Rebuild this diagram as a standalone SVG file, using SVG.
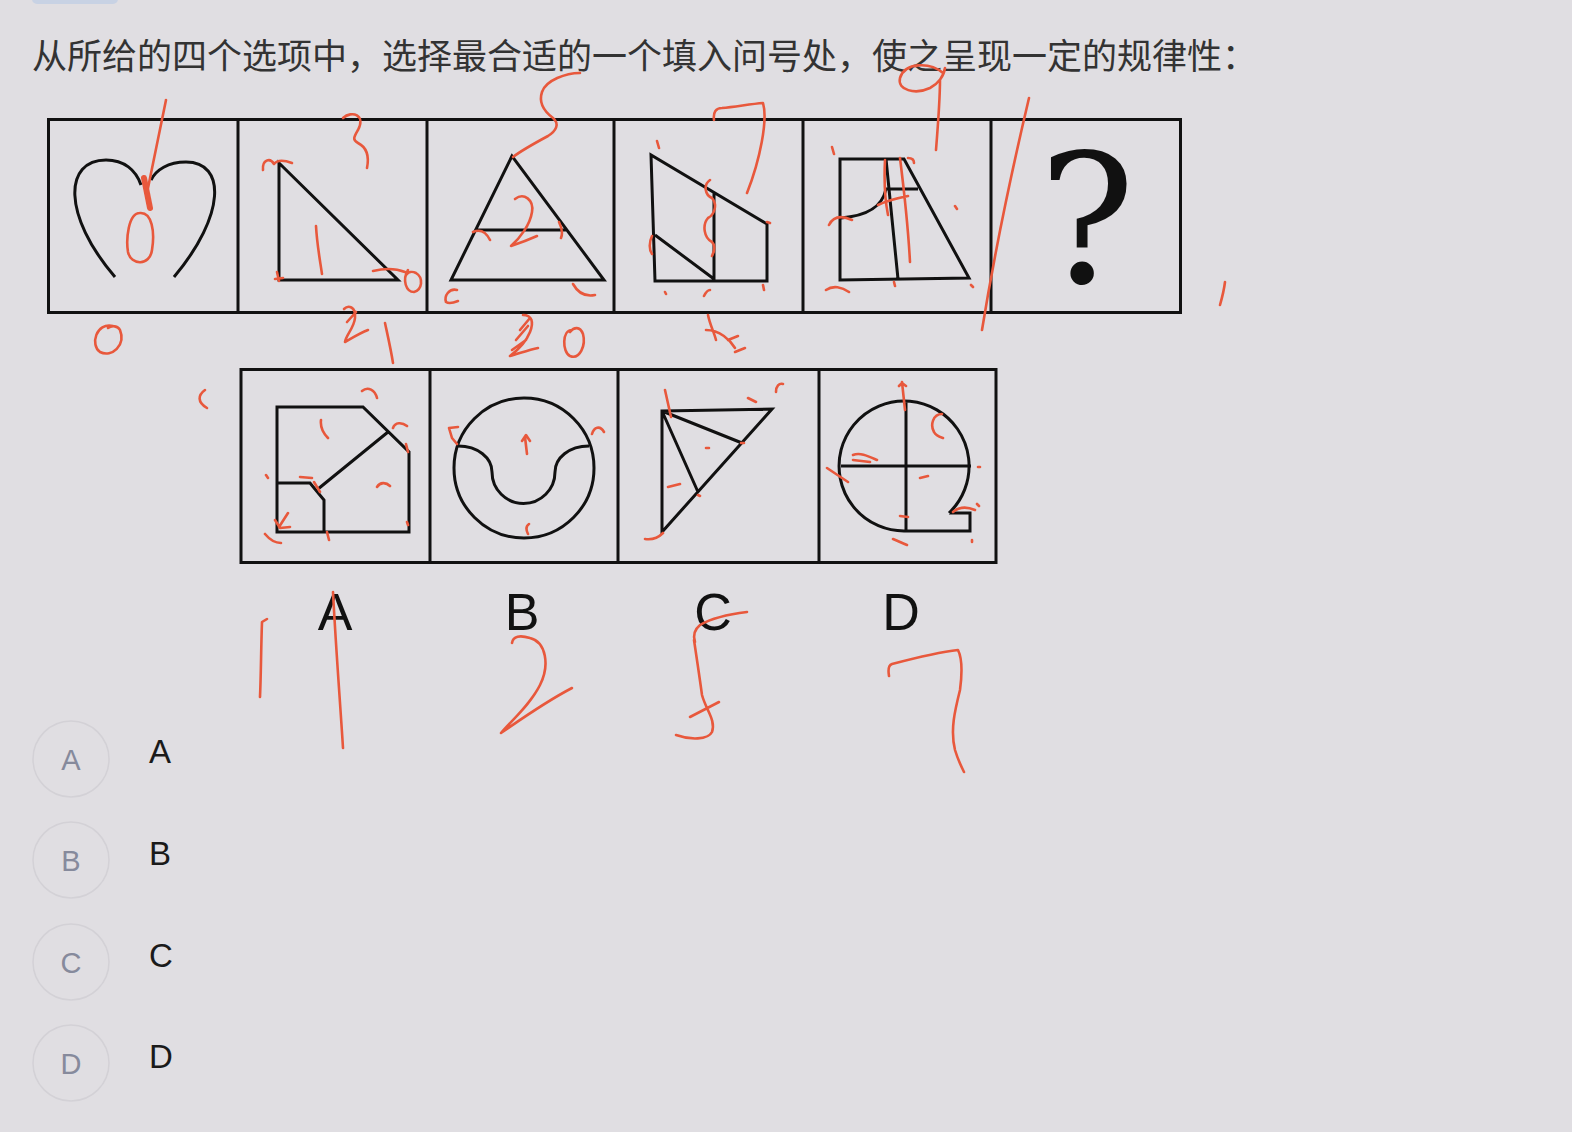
<svg xmlns="http://www.w3.org/2000/svg" width="1572" height="1132" viewBox="0 0 1572 1132">
<style>
.bx{fill:none;stroke:#111;stroke-width:3}
.sh{fill:none;stroke:#111;stroke-width:3;stroke-linejoin:miter}
.rd{fill:none;stroke:#e8583c;stroke-width:2.6;stroke-linecap:round;stroke-linejoin:round}
.ttl{font-family:"Noto Sans CJK SC","Noto Sans",sans-serif;font-size:35px;fill:#333}
.lbl{font-family:"Liberation Sans","Noto Sans",sans-serif;font-size:52px;fill:#111;text-anchor:middle}
.cl{fill:none;stroke:#d3d1d6;stroke-width:1.5}
.ct{font-family:"Liberation Sans",sans-serif;font-size:29px;fill:#868a9c;text-anchor:middle}
.ot{font-family:"Liberation Sans",sans-serif;font-size:33px;fill:#1a1a1a}
</style>
<rect width="1572" height="1132" fill="#e0dee2"/>
<rect x="32" y="-8" width="86" height="12" rx="5" fill="#c8d2e4"/>
<text class="ttl" x="32" y="69">从所给的四个选项中，选择最合适的一个填入问号处，使之呈现一定的规律性：</text>

<g id="row-top">
<rect class="bx" x="48.5" y="119.5" width="1132" height="193"/>
<path class="bx" d="M238,119.5V312.5M427,119.5V312.5M614,119.5V312.5M803,119.5V312.5M991,119.5V312.5"/>
</g>
<g id="fig1"><path class="sh" d="M115,277C62,215 64,160 106,160C124,160 136,170 141,185M174,277C226,215 226,162 186,162C168,162 156,170 151,180"/></g>
<g id="fig2"><path class="sh" d="M279,163L279,280L398,280Z"/></g>
<g id="fig3"><path class="sh" d="M512,156L451,280L604,280Z M475,230H566"/></g>
<g id="fig4"><path class="sh" d="M651,155L655,281L767,281L767,224Z M714,193V281 M655,235L714,279"/></g>
<g id="fig5"><path class="sh" d="M840,159H904L969,278L840,280Z M886,159L898,279 M841,218C866,216 882,208 886,189H918"/></g>
<g id="fig6"><text x="1087" y="282" font-family="DejaVu Serif,serif" font-size="180" text-anchor="middle" fill="#111">?</text></g>

<g id="row-options">
<rect class="bx" x="241" y="369.5" width="755" height="193"/>
<path class="bx" d="M430,369.5V562.5M618,369.5V562.5M819,369.5V562.5"/>
</g>
<g id="optA"><path class="sh" d="M277,407H363L409,452V532H277Z M277,483H310L324,500V532 M318,489L388,432"/></g>
<g id="optB"><circle class="sh" cx="524" cy="468" r="70"/><path class="sh" d="M458,446C478,446 492,458 492,472A31.5,31.5 0 0 0 555,472C555,458 569,446 589,446"/></g>
<g id="optC"><path class="sh" d="M662,411L772,409L662,532Z M662,411L742,443 M662,411L698,492"/></g>
<g id="optD"><path class="sh" d="M949,513A65,65 0 1 0 906,531H970V513H949 M906,401V531 M841,466H971"/></g>

<g id="labels">
<text class="lbl" x="335" y="630">A</text>
<text class="lbl" x="522" y="630">B</text>
<text class="lbl" x="713" y="630">C</text>
<text class="lbl" x="901" y="630">D</text>
</g>

<g id="choices">
<circle class="cl" cx="71" cy="759" r="38"/><text class="ct" x="71" y="770">A</text><text class="ot" x="149" y="763">A</text>
<circle class="cl" cx="71" cy="860" r="38"/><text class="ct" x="71" y="871">B</text><text class="ot" x="149" y="865">B</text>
<circle class="cl" cx="71" cy="962" r="38"/><text class="ct" x="71" y="973">C</text><text class="ot" x="149" y="967">C</text>
<circle class="cl" cx="71" cy="1063" r="38"/><text class="ct" x="71" y="1074">D</text><text class="ot" x="149" y="1068">D</text>
</g>

<g id="annotations" class="rd">
<path d="M166,100C160,130 154,160 148,188"/>
<path d="M144,178L150,208" stroke-width="6"/>
<path d="M140,213C128,213 126,240 128,252C131,266 150,266 152,250C155,232 152,212 140,213"/>
<path d="M113,326C96,322 90,345 100,352C112,358 126,345 120,330C118,326 112,325 108,328"/>
<path d="M343,118C352,110 366,115 358,130C354,137 352,140 358,143C368,148 369,158 367,168"/>
<path d="M263,170C262,160 270,157 274,164C277,160 284,160 292,163"/>
<path d="M316,226C317,245 320,260 322,274"/>
<path d="M277,272L279,281M275,279L283,278"/>
<path d="M373,271C385,268 395,268 405,272M408,270C402,280 406,292 414,292C422,290 424,278 416,273C412,271 408,272 406,275"/>
<path d="M344,309C348,305 356,306 355,318C354,328 346,335 345,342C352,338 360,333 368,330M347,322L356,312"/>
<path d="M385,323C388,337 391,350 393,363"/>
<path d="M580,73C566,73 546,80 542,92C538,104 545,112 553,118C560,124 556,131 548,136C535,143 522,150 513,157"/>
<path d="M515,199C524,192 534,200 532,212C530,225 520,238 511,246C520,243 528,240 537,236"/>
<path d="M473,232C480,229 486,232 490,240M559,222C562,228 563,233 561,238"/>
<path d="M457,290C449,288 444,296 446,302C449,304 453,303 458,301"/>
<path d="M573,284C578,293 585,297 595,295"/>
<path d="M523,315C532,315 534,322 530,332C526,342 518,350 510,356C518,354 528,350 538,348M520,330L530,318M512,350L526,340M516,340L528,326"/>
<path d="M572,330C562,330 562,352 570,356C580,360 586,345 583,334C580,326 574,327 570,332"/>
<path d="M714,120C713,112 716,108 722,108C735,107 750,104 763,103C768,120 760,160 747,193"/>
<path d="M657,141L659,148M652,236C649,242 649,250 652,254M665,292L666,294M704,296C706,292 708,290 710,290M763,285L764,290M767,222L770,223"/>
<path d="M710,180C703,185 705,195 712,198C718,205 714,215 708,218C702,225 704,238 712,242C716,246 714,252 712,256"/>
<path d="M708,315C710,325 714,332 716,340M706,330C720,330 730,340 735,348M728,340L738,336M735,352L745,348"/>
<path d="M943,73C930,62 905,62 900,78C897,90 915,95 930,88C938,84 944,76 945,68M940,80C940,100 938,125 936,150"/>
<path d="M832,147L834,154M908,158C912,158 914,160 914,163M829,225C834,215 843,216 852,220M885,160C884,180 885,200 888,215M900,158C904,190 908,225 910,262M878,205C888,200 898,198 908,196M955,206L957,209M826,290C833,285 842,287 849,292M894,282L895,286M971,285L973,287"/>
<path d="M1029,98C1012,170 995,250 982,330"/>
<path d="M1225,282C1224,290 1222,298 1220,305"/>
<path d="M205,390C198,395 197,402 207,408"/>
<path d="M362,391C368,386 375,390 377,398M321,420C320,428 324,434 328,438M393,428C395,422 402,422 407,426M406,444L408,452M377,487C380,482 386,482 390,486M266,475L268,478M300,477L312,478M314,482L320,492M288,513L279,527M275,520L280,528L290,527M265,534C270,540 276,543 281,543M327,532L329,540M407,522L408,525"/>
<path d="M458,427L449,428L452,438L457,444M592,434C594,427 600,425 604,432M527,454L525,437M522,441L526,435L530,441M529,524C526,526 526,530 528,534"/>
<path d="M665,390L671,417M748,398L756,402M776,392C776,386 779,383 783,384M706,448L709,448M668,487L680,484M741,443L744,443M698,495L700,496M645,539C652,540 658,538 663,533"/>
<path d="M902,382L905,410M899,386L902,383L906,386M942,414C933,414 930,425 934,432C936,436 940,437 943,438M853,455C860,452 868,456 877,460M853,460L870,462M827,468L848,482M920,478L928,476M978,467L980,467M953,512C960,506 968,507 975,510M977,504L979,506M900,516L908,517M893,539C898,541 902,543 907,545M972,540L972,542"/>
<path d="M267,619L262,622C261,650 261,675 260,697"/>
<path d="M333,592C336,650 340,700 343,748"/>
<path d="M512,643C513,636 520,635 530,638C546,642 550,665 540,685C530,705 512,720 501,733C520,720 545,702 572,688"/>
<path d="M747,612C730,614 712,618 700,625C694,630 693,636 695,642M694,640C697,660 700,680 702,695C706,710 716,720 712,732C708,740 690,740 676,735M690,717L719,702"/>
<path d="M889,676C888,670 889,665 892,664C915,658 940,652 958,650C963,660 962,675 960,690C955,710 950,730 955,750C958,760 962,768 964,772"/>
</g>
</svg>
